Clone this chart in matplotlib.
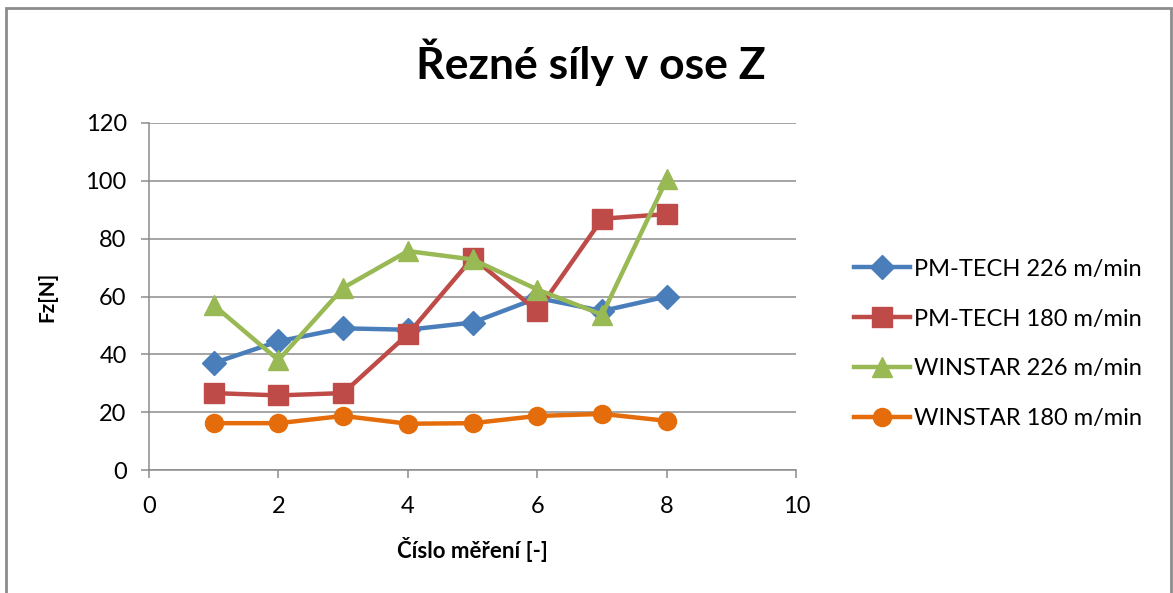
import matplotlib.pyplot as plt
from matplotlib.patches import Rectangle

plt.rcParams['font.family'] = ['Lato', 'DejaVu Sans']

# --- data ---
mereni = [1, 2, 3, 4, 5, 6, 7, 8]
pm_tech_226 = [37.0, 44.5, 49.0, 48.5, 51.0, 59.5, 55.0, 60.0]
pm_tech_180 = [26.6, 25.8, 26.6, 47.0, 73.4, 54.9, 86.9, 88.5]
winstar_226 = [57.0, 38.0, 63.0, 75.7, 72.8, 62.4, 53.7, 100.7]
winstar_180 = [16.2, 16.2, 18.7, 16.0, 16.2, 18.7, 19.4, 17.0]

series = [
    ('PM-TECH 226 m/min', pm_tech_226, '#4A7EBB', 'D', 12),
    ('PM-TECH 180 m/min', pm_tech_180, '#BE4B48', 's', 14),
    ('WINSTAR 226 m/min', winstar_226, '#98B954', '^', 15),
    ('WINSTAR 180 m/min', winstar_180, '#E46C0A', 'o', 13),
]

fig = plt.figure(figsize=(11.73, 5.93), dpi=100)
ax = fig.add_axes([0.127, 0.2074, 0.552, 0.5852])

for label, vals, col, mk, ms in series:
    ax.plot(mereni, vals, color=col, marker=mk, markersize=ms, linewidth=3.2,
            label=label, solid_joinstyle='round')

ax.set_xlim(0, 10)
ax.set_ylim(0, 120)
ax.set_xticks(range(0, 11, 2))
ax.set_yticks(range(0, 121, 20))
ax.yaxis.grid(True, color='#8C8C8C', linewidth=1.1)
ax.set_axisbelow(True)
for s in ['top', 'right']:
    ax.spines[s].set_visible(False)
for s in ['left', 'bottom']:
    ax.spines[s].set_color('#8C8C8C')
    ax.spines[s].set_linewidth(1.1)
ax.tick_params(axis='both', colors='#8C8C8C', length=6, width=1.1,
               labelsize=17, labelcolor='black')
ax.tick_params(axis='y', pad=10)
ax.tick_params(axis='x', pad=13)

ax.set_xlabel('Číslo měření [-]', fontsize=16, fontweight='bold', labelpad=14)
ax.set_ylabel('Fz[N]', fontsize=15, fontweight='bold', labelpad=20)

fig.text(0.504, 0.895, 'Řezné síly v ose Z', ha='center', va='center',
         fontsize=32, fontweight='bold')

ax.legend(loc='center left', bbox_to_anchor=(0.71, 0.42),
          bbox_transform=fig.transFigure, frameon=False, fontsize=17,
          labelspacing=1.22, handlelength=2.35, handletextpad=0.2)

fig.patches.append(Rectangle((0.005, -0.05), 0.993, 1.036, transform=fig.transFigure,
                             fill=False, edgecolor='#8C8C8C', linewidth=2))

fig.savefig('out.png', dpi=100)
